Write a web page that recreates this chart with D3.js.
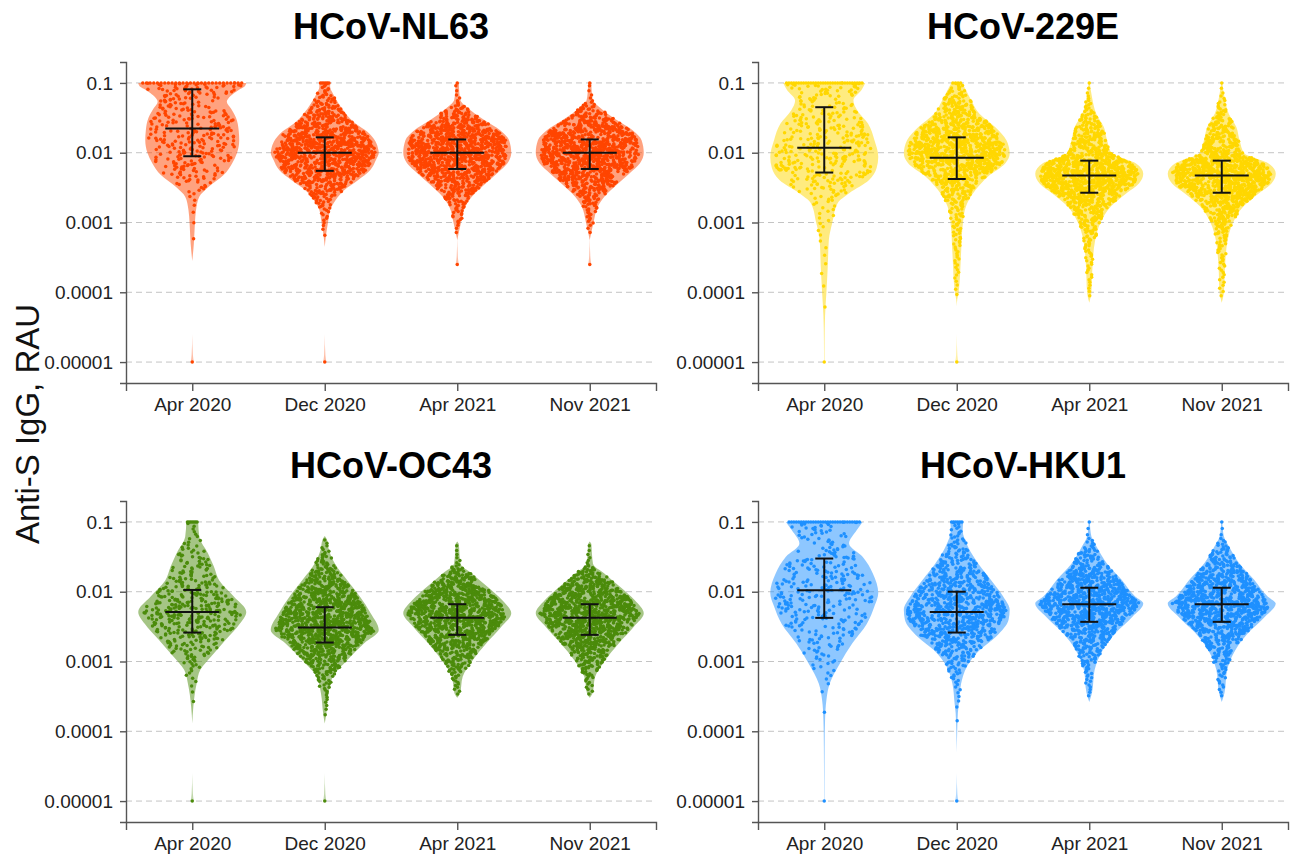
<!DOCTYPE html>
<html>
<head>
<meta charset="utf-8">
<script src="https://cdn.jsdelivr.net/npm/d3@7"></script>
<style>
  body { margin: 0; background: #fff; }
  svg { font-family: "Liberation Sans", Arial, sans-serif; }
</style>
</head>
<body>
<svg id="chart" width="1295" height="855"></svg>
<script>
// ---- data ----
const categories = ['Apr 2020', 'Dec 2020', 'Apr 2021', 'Nov 2021'];
const viruses = ['HCoV-NL63', 'HCoV-229E', 'HCoV-OC43', 'HCoV-HKU1'];
const tickValues = [0.00001, 0.0001, 0.001, 0.01, 0.1];
const tickLabels = ['0.00001', '0.0001', '0.001', '0.01', '0.1'];

// interquartile range and median per time point: [q1, median, q3]
const nl63Stats = [[0.0089, 0.0223, 0.081], [0.0055, 0.01, 0.0166], [0.00585, 0.01, 0.0155], [0.00585, 0.01, 0.0155]];
const e229Stats = [[0.0052, 0.0118, 0.0449], [0.0042, 0.0085, 0.0166], [0.00267, 0.0047, 0.0077], [0.00267, 0.0047, 0.0077]];
const oc43Stats = [[0.0026, 0.00514, 0.0106], [0.00187, 0.00307, 0.006], [0.00241, 0.00422, 0.00662], [0.00241, 0.00422, 0.00662]];
const hku1Stats = [[0.00422, 0.0105, 0.0299], [0.0026, 0.00514, 0.01], [0.0037, 0.00662, 0.0114], [0.0037, 0.00662, 0.0114]];

// violin outlines: [log10 value, relative half width]
const nl63Apr2020 = [[-1.0, 1.0], [-1.05, 0.97], [-1.1, 0.86], [-1.18, 0.72], [-1.27, 0.64], [-1.37, 0.72], [-1.5, 0.81], [-1.68, 0.86], [-1.82, 0.87], [-2.0, 0.83], [-2.15, 0.74], [-2.32, 0.58], [-2.49, 0.3], [-2.63, 0.13], [-2.82, 0.07], [-3.0, 0.05], [-3.3, 0.03], [-3.55, 0]];
const nl63Dec2020 = [[-1.0, 0.1], [-1.06, 0.1], [-1.15, 0.15], [-1.3, 0.26], [-1.44, 0.39], [-1.58, 0.57], [-1.7, 0.79], [-1.84, 0.94], [-1.95, 0.99], [-2.0, 1.0], [-2.1, 0.95], [-2.25, 0.84], [-2.39, 0.62], [-2.53, 0.37], [-2.68, 0.2], [-2.82, 0.1], [-3.0, 0.06], [-3.2, 0.02], [-3.35, 0]];
const nl63Apr2021 = [[-1.0, 0.03], [-1.15, 0.04], [-1.25, 0.06], [-1.34, 0.17], [-1.53, 0.5], [-1.68, 0.8], [-1.82, 0.96], [-2.0, 1.0], [-2.15, 0.93], [-2.3, 0.73], [-2.46, 0.5], [-2.63, 0.27], [-2.77, 0.15], [-3.0, 0.07], [-3.25, 0]];

const e229Apr2020 = [[-1.0, 0.76], [-1.1, 0.69], [-1.25, 0.54], [-1.39, 0.61], [-1.58, 0.81], [-1.82, 0.93], [-2.06, 1.0], [-2.22, 0.97], [-2.39, 0.83], [-2.58, 0.46], [-2.72, 0.25], [-3.0, 0.15], [-3.25, 0.085], [-3.63, 0.065], [-4.0, 0.04], [-4.34, 0.015], [-4.7, 0.006], [-5.0, 0.004]];
const e229Dec2020 = [[-1.0, 0.1], [-1.1, 0.17], [-1.25, 0.27], [-1.44, 0.42], [-1.63, 0.71], [-1.82, 0.92], [-2.01, 0.98], [-2.15, 0.9], [-2.34, 0.58], [-2.53, 0.35], [-2.77, 0.17], [-3.0, 0.115], [-3.44, 0.08], [-4.0, 0.035], [-4.1, 0.01], [-4.2, 0]];
const e229Apr2021 = [[-1.0, 0.01], [-1.2, 0.05], [-1.44, 0.13], [-1.63, 0.27], [-1.82, 0.33], [-2.01, 0.42], [-2.1, 0.7], [-2.15, 0.86], [-2.3, 1.0], [-2.44, 0.92], [-2.58, 0.69], [-2.77, 0.4], [-3.0, 0.21], [-3.25, 0.11], [-3.63, 0.06], [-4.0, 0.04], [-4.15, 0]];

const oc43Apr2020 = [[-1.0, 0.11], [-1.21, 0.13], [-1.45, 0.29], [-1.64, 0.4], [-1.84, 0.5], [-2.07, 0.77], [-2.29, 1.0], [-2.46, 0.88], [-2.69, 0.62], [-2.93, 0.35], [-3.12, 0.15], [-3.32, 0.08], [-3.65, 0.02], [-3.89, 0]];
const oc43Dec2020 = [[-1.2, 0], [-1.25, 0.04], [-1.41, 0.08], [-1.6, 0.19], [-1.84, 0.42], [-2.07, 0.65], [-2.31, 0.85], [-2.55, 1.0], [-2.74, 0.73], [-2.98, 0.42], [-3.22, 0.15], [-3.46, 0.07], [-3.74, 0.03], [-3.89, 0]];
const oc43Apr2021 = [[-1.28, 0], [-1.32, 0.03], [-1.45, 0.04], [-1.6, 0.06], [-1.74, 0.27], [-1.93, 0.56], [-2.12, 0.83], [-2.31, 1.0], [-2.5, 0.82], [-2.74, 0.54], [-2.98, 0.29], [-3.22, 0.1], [-3.46, 0.05], [-3.52, 0]];

const hku1Apr2020 = [[-1.0, 0.71], [-1.12, 0.6], [-1.31, 0.46], [-1.5, 0.71], [-1.74, 0.9], [-2.02, 1.0], [-2.21, 0.93], [-2.46, 0.79], [-2.74, 0.52], [-3.03, 0.29], [-3.32, 0.1], [-3.55, 0.04], [-3.84, 0.015], [-4.22, 0.007], [-5.0, 0.003]];
const hku1Dec2020 = [[-1.0, 0.12], [-1.12, 0.11], [-1.36, 0.21], [-1.6, 0.4], [-1.83, 0.63], [-2.07, 0.86], [-2.26, 0.98], [-2.4, 0.96], [-2.64, 0.73], [-2.84, 0.42], [-3.07, 0.19], [-3.32, 0.08], [-3.6, 0.04], [-3.74, 0.02], [-4.0, 0.008], [-4.3, 0]];
const hku1Apr2021 = [[-1.0, 0.01], [-1.21, 0.04], [-1.36, 0.14], [-1.6, 0.33], [-1.83, 0.6], [-2.07, 0.85], [-2.17, 1.0], [-2.36, 0.8], [-2.6, 0.48], [-2.84, 0.25], [-3.12, 0.1], [-3.45, 0.05], [-3.58, 0]];

const nl63Profiles = [nl63Apr2020, nl63Dec2020, nl63Apr2021, nl63Apr2021];
const e229Profiles = [e229Apr2020, e229Dec2020, e229Apr2021, e229Apr2021];
const oc43Profiles = [oc43Apr2020, oc43Dec2020, oc43Apr2021, oc43Apr2021];
const hku1Profiles = [hku1Apr2020, hku1Dec2020, hku1Apr2021, hku1Apr2021];

// approximate number of samples inside the violin, and samples sitting on the 0.1 upper limit
const dotCounts = [[330, 1050, 1100, 1100], [380, 1100, 1150, 1150], [420, 1150, 1100, 1100], [330, 900, 1000, 1000]];
const capCounts = [[28, 6, 1, 1], [32, 4, 1, 1], [7, 0, 0, 0], [30, 6, 1, 1]];
// isolated low samples
const lowOutliers = [
  [[0.00001], [0.00001], [0.00025], [0.00025]],
  [[0.00001], [0.00001], [], []],
  [[0.00001], [0.00001], [], []],
  [[0.00001], [0.00001], [], []]
];

const allStats = [nl63Stats, e229Stats, oc43Stats, hku1Stats];
const allProfiles = [nl63Profiles, e229Profiles, oc43Profiles, hku1Profiles];
const dotColors = ['#ff4500', '#ffd700', '#4b8b0b', '#1e90ff'];

// ---- layout ----
const colRanges = [[126, 656], [758, 1288]];
const rowRanges = [[383, 62], [822, 501]];
const rowTitleY = [39, 478];
const maxHalfWidth = 54;
const wScale = d3.scaleLinear().domain([0, 1]).range([0, maxHalfWidth]);

const svg = d3.select('#chart');

// linear interpolation of a profile (sorted by decreasing log value)
function widthAt(profile, lv) {
  for (let k = 0; k < profile.length - 1; k++) {
    const a = profile[k];
    const b = profile[k + 1];
    if (lv <= a[0] && lv >= b[0]) {
      const t = (a[0] - lv) / ((a[0] - b[0]) || 1);
      return a[1] + (b[1] - a[1]) * t;
    }
  }
  return 0;
}

// place n samples at the quantiles of the outline's density
// (the smoothed outline overstates the tails, so they are weighted down a little)
function quantileValues(profile, n) {
  const top = profile[0][0];
  const bot = profile[profile.length - 1][0];
  const step = 0.005;
  const grid = d3.range(top, bot - step / 2, -step);
  const dens = lv => Math.pow(widthAt(profile, lv), 1.35);
  const cum = [0];
  for (let k = 1; k < grid.length; k++) {
    cum.push(cum[k - 1] + (dens(grid[k - 1]) + dens(grid[k])) / 2 * step);
  }
  const total = cum[cum.length - 1];
  const out = [];
  let k = 1;
  for (let i = 0; i < n; i++) {
    const target = (i + 0.5) / n * total;
    while (k < cum.length - 1 && cum[k] < target) k++;
    const t = (target - cum[k - 1]) / ((cum[k] - cum[k - 1]) || 1);
    out.push(grid[k - 1] + (grid[k] - grid[k - 1]) * t);
  }
  return out;
}

// fixed sideways scatter, same every render
function spread(i, c, v) {
  const s = Math.sin((i + 1) * 12.9898 + c * 78.233 + v * 37.719) * 43758.5453;
  return (s - Math.floor(s)) * 2 - 1;
}

viruses.forEach((name, v) => {
  const col = v % 2;
  const row = Math.floor(v / 2);
  const xr = colRanges[col];
  const yr = rowRanges[row];
  const color = dotColors[v];

  const x = d3.scalePoint().domain(categories).range(xr).padding(0.5);
  const y = d3.scaleLog().domain([Math.pow(10, -5.3), Math.pow(10, -0.7)]).range(yr);

  const g = svg.append('g');

  // dashed grid
  g.append('g')
    .selectAll('line')
    .data(tickValues)
    .join('line')
      .attr('x1', xr[0])
      .attr('x2', xr[1])
      .attr('y1', d => y(d))
      .attr('y2', d => y(d))
      .attr('stroke', '#c4c4c4')
      .attr('stroke-width', 1)
      .attr('stroke-dasharray', '6 4');

  categories.forEach((cat, c) => {
    const cx = x(cat);
    const profile = allProfiles[v][c];
    const area = d3.area()
        .curve(d3.curveMonotoneY)
        .y(d => y(Math.pow(10, d[0])))
        .x0(d => cx - wScale(d[1]))
        .x1(d => cx + wScale(d[1]));

    // violin
    g.append('path')
        .attr('d', area(profile))
        .attr('fill', color)
        .attr('fill-opacity', 0.5);

    // thin spikes for samples below the outline
    const bottom = profile[profile.length - 1][0];
    lowOutliers[v][c].forEach(val => {
      const lv = Math.log10(val);
      if (lv < bottom) {
        g.append('path')
            .attr('d', area([[lv + 0.4, 0], [lv + 0.1, 0.012], [lv, 0.03]]))
            .attr('fill', color)
            .attr('fill-opacity', 0.35);
      }
    });

    // samples, spread sideways inside the outline
    const vals = quantileValues(profile, dotCounts[v][c]);
    const dots = vals.map((lv, i) => ({
      value: Math.pow(10, lv),
      dx: spread(i, c, v) * wScale(widthAt(profile, lv)) * 0.93
    }));
    const cap = capCounts[v][c];
    const topW = wScale(widthAt(profile, -1.0));
    for (let j = 0; j < cap; j++) {
      dots.push({ value: 0.1, dx: cap === 1 ? 0 : ((j + 0.5) / cap * 2 - 1) * topW * 0.95 });
    }
    lowOutliers[v][c].forEach(val => dots.push({ value: val, dx: 0 }));

    g.append('g')
      .selectAll('circle')
      .data(dots)
      .join('circle')
        .attr('cx', d => cx + d.dx)
        .attr('cy', d => y(d.value))
        .attr('r', 1.75)
        .attr('fill', color);

    // median with interquartile bar
    const [q1, med, q3] = allStats[v][c];
    const bars = g.append('g')
        .attr('stroke', '#111')
        .attr('stroke-width', 2);
    bars.append('line')
        .attr('x1', cx).attr('x2', cx)
        .attr('y1', y(q1)).attr('y2', y(q3));
    [q1, q3].forEach(q => {
      bars.append('line')
          .attr('x1', cx - 9).attr('x2', cx + 9)
          .attr('y1', y(q)).attr('y2', y(q));
    });
    bars.append('line')
        .attr('x1', cx - 27).attr('x2', cx + 27)
        .attr('y1', y(med)).attr('y2', y(med));
  });

  // axes
  const yAxis = g.append('g')
      .attr('transform', `translate(${xr[0]},0)`)
      .call(d3.axisLeft(y)
        .tickValues(tickValues)
        .tickFormat((d, i) => tickLabels[i])
        .tickSize(6)
        .tickPadding(7));
  const xAxis = g.append('g')
      .attr('transform', `translate(0,${yr[0]})`)
      .call(d3.axisBottom(x)
        .tickSize(8)
        .tickPadding(7));
  [yAxis, xAxis].forEach(a => {
    a.selectAll('path, line').attr('stroke', '#555').attr('stroke-width', 1.4);
    a.selectAll('text').attr('fill', '#222').style('font-size', '19px');
  });

  // panel title
  g.append('text')
      .attr('x', (xr[0] + xr[1]) / 2)
      .attr('y', rowTitleY[row])
      .attr('text-anchor', 'middle')
      .style('font-size', '36px')
      .style('font-weight', 'bold')
      .text(name);
});

svg.append('text')
    .attr('transform', 'translate(39,424) rotate(-90)')
    .attr('text-anchor', 'middle')
    .attr('fill', '#111')
    .style('font-size', '33px')
    .text('Anti-S IgG, RAU');
</script>
</body>
</html>
